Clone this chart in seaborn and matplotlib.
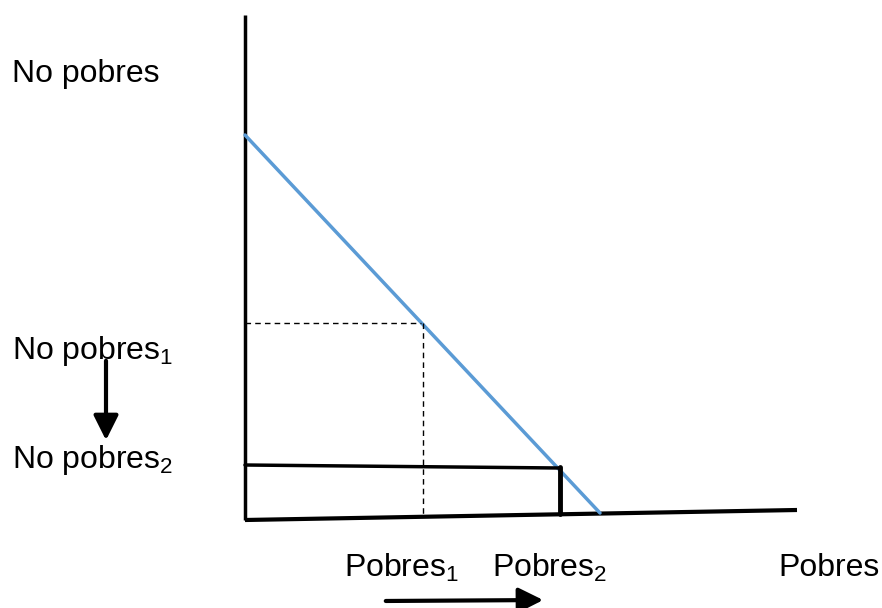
import matplotlib
matplotlib.use("Agg")
import matplotlib.pyplot as plt
import seaborn as sns
import pandas as pd

# puntos del diagrama (coordenadas en pixeles de la imagen)
eje_y_x = [245, 245]
eje_y_y = [15, 520]
eje_x_x = [245, 797]
eje_x_y = [520, 510]
recta_x = [245, 600]
recta_y = [135, 513]
punto1 = (421, 323)   # Pobres1 / No pobres1
punto2 = (559, 467)   # Pobres2 / No pobres2

etiquetas_y = ["No pobres", "No pobres$_1$", "No pobres$_2$"]
pos_etiquetas_y = [74, 351, 460]
etiquetas_x = ["Pobres$_1$", "Pobres$_2$", "Pobres"]
pos_etiquetas_x = [344, 492, 778]

sns.set_style("white")
plt.rcParams['font.family'] = ['Liberation Sans', 'DejaVu Sans']
plt.rcParams['mathtext.default'] = 'regular'

fig = plt.figure(figsize=(8.82, 6.08), dpi=100)
ax = fig.add_axes([0, 0, 1, 1])
ax.set_xlim(0, 882)
ax.set_ylim(608, 0)
ax.axis('off')

# ejes
ax.plot(eje_y_x, eje_y_y, color='black', lw=2.5, solid_capstyle='butt')
ax.plot(eje_x_x, eje_x_y, color='black', lw=3, solid_capstyle='butt')

# recta azul
df = pd.DataFrame({'x': recta_x, 'y': recta_y})
sns.lineplot(data=df, x='x', y='y', ax=ax, color='#5b9bd5', lw=2.5)

# lineas punteadas
ax.plot([245, punto1[0]], [punto1[1], punto1[1]], color='black', lw=1, ls=(0, (4, 3)))
ax.plot([punto1[0] + 2, punto1[0] + 2], [punto1[1], 515], color='black', lw=1, ls=(0, (4, 3)))

# rectangulo
ax.plot([245, punto2[0]], [465, punto2[1] + 1], color='black', lw=2.5)
ax.plot([punto2[0] + 1, punto2[0] + 1], [punto2[1], 514], color='black', lw=3.5)

# etiquetas
for txt, yy in zip(etiquetas_y, pos_etiquetas_y):
    ax.text(12, yy, txt, fontsize=23, va='center', ha='left', color='black')
for txt, xx in zip(etiquetas_x, pos_etiquetas_x):
    ax.text(xx, 568, txt, fontsize=23, va='center', ha='left', color='black')

# flechas
ax.annotate('', xy=(106, 443), xytext=(106, 358),
            arrowprops=dict(arrowstyle='-|>,head_length=0.6,head_width=0.3',
                            color='black', lw=3, mutation_scale=25))
ax.annotate('', xy=(546, 600), xytext=(383, 601),
            arrowprops=dict(arrowstyle='-|>,head_length=0.6,head_width=0.3',
                            color='black', lw=3, mutation_scale=25))

fig.savefig('out.png', dpi=100)
